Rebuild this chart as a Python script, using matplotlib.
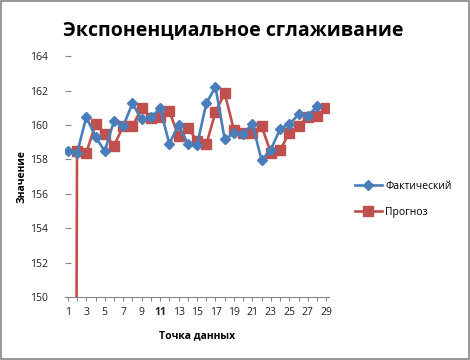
import matplotlib.pyplot as plt
from matplotlib.patches import Rectangle

# Точки данных 1..29
points = list(range(1, 30))
actual = [158.48, 158.35, 160.47, 159.31, 158.48, 160.22, 159.93, 161.25, 160.32, 160.44,
          160.96, 158.92, 159.99, 158.92, 158.82, 161.25, 162.22, 159.16, 159.51, 159.50,
          160.05, 157.95, 158.57, 159.77, 160.05, 160.61, 160.52, 161.09]
forecast = [0, 158.48, 158.38, 160.03, 159.50, 158.79, 159.93, 159.93, 160.96, 160.43,
            160.44, 160.80, 159.33, 159.85, 159.06, 158.87, 160.75, 161.85, 159.70, 159.55,
            159.51, 159.93, 158.38, 158.53, 159.55, 159.93, 160.47, 160.51, 160.96]
y_ticks = [150, 152, 154, 156, 158, 160, 162, 164]

blue = '#4A7EBB'
red = '#C0504D'

plt.rcParams['font.family'] = ['Open Sans', 'DejaVu Sans']

fig = plt.figure(figsize=(4.7, 3.6), dpi=100)
fig.patches.append(Rectangle((0.003, 0.003), 0.994, 0.994, transform=fig.transFigure,
                             fill=False, edgecolor='#868686', linewidth=1.2))
ax = fig.add_axes([0.138, 0.175, 0.562, 0.669])

ax.plot(points[:len(actual)], actual, color=blue, linewidth=1.9, marker='D',
        markersize=5.5, label='Фактический', zorder=3)
ax.plot(points, forecast, color=red, linewidth=1.9, marker='s',
        markersize=7, label='Прогноз', zorder=2)

ax.set_ylim(150, 164)
ax.set_xlim(0.68, 29.3)
ax.set_yticks(y_ticks)
ax.set_xticks(points)
ax.set_xticklabels([str(p) if p % 2 == 1 else '' for p in points])
for lab in ax.get_xticklabels():
    if lab.get_text() == '11':
        lab.set_fontweight('bold')

for side in ['top', 'right', 'left']:
    ax.spines[side].set_visible(False)
ax.spines['bottom'].set_color('#868686')
ax.tick_params(axis='y', direction='in', length=4, color='#868686', pad=12,
               labelsize=7.5, labelcolor='#222222')
ax.tick_params(axis='x', direction='out', length=3, color='#868686', pad=4,
               labelsize=7.5, labelcolor='#222222')

ax.set_xlabel('Точка данных', fontsize=7.5, fontweight='bold', labelpad=9)
ax.set_ylabel('Значение', fontsize=7.5, fontweight='bold', labelpad=2)

fig.text(0.497, 0.917, 'Экспоненциальное сглаживание', ha='center', va='center',
         fontsize=14, fontweight='bold')

fig.legend(loc='center left', bbox_to_anchor=(0.735, 0.447), frameon=False,
           fontsize=7.5, handlelength=2.6, labelspacing=1.45, handletextpad=0.3)

fig.savefig('out.png', dpi=100)
